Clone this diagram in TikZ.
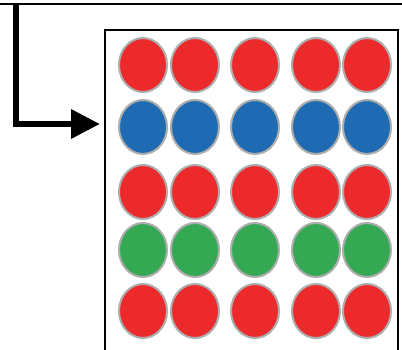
\documentclass[tikz,border=0pt]{standalone}
\usetikzlibrary{arrows.meta,positioning,shapes.geometric}
\definecolor{dotred}{HTML}{EC2A2B}
\definecolor{dotblue}{HTML}{1E6BB3}
\definecolor{dotgreen}{HTML}{35A853}

\tikzset{
  dot/.style={ellipse,minimum width=48pt,minimum height=54pt,inner sep=0pt,draw=black!32,line width=2pt},
}

\begin{document}
\begin{tikzpicture}[x=1pt,y=-1pt]
\useasboundingbox (0,0) rectangle (402,350);
\draw[line width=1.6pt] (0,4) -- (402,4);
\node[draw,line width=2.2pt,minimum width=293pt,minimum height=330pt,anchor=north west,inner sep=0pt] (panel) at (104,29) {};
% rows of dots
\foreach \x [count=\c] in {143,195,255,316,367} {
  \node[dot,fill=dotred] (r1-\c) at (\x,65) {};
  \node[dot,fill=dotblue] (r2-\c) at (\x,127) {};
  \node[dot,fill=dotred] (r3-\c) at (\x,192) {};
  \node[dot,fill=dotgreen] (r4-\c) at (\x,250) {};
  \node[dot,fill=dotred] (r5-\c) at (\x,311) {};
}
% feed arrow
\coordinate (src) at (16,4);
\coordinate (entry) at (100,124);
\draw[line width=6.5pt,-{Triangle[length=29pt,width=28pt]}] (src) |- (entry);
\end{tikzpicture}
\end{document}
